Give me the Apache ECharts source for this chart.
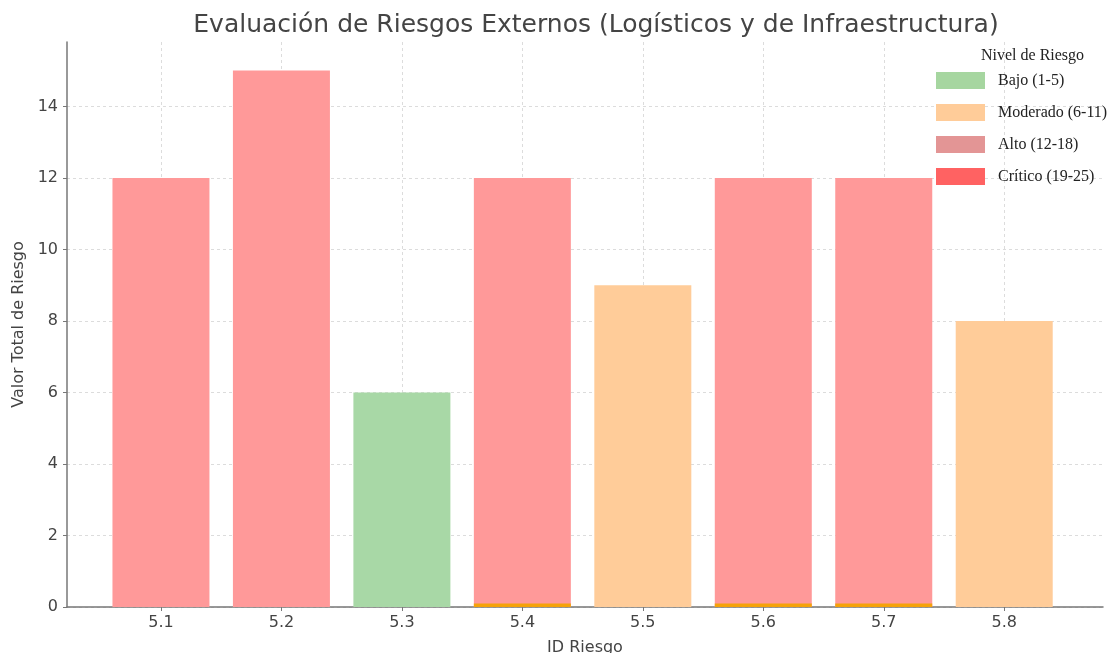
<!DOCTYPE html>
<html>
<head>
<meta charset="utf-8">
<script src="https://cdn.jsdelivr.net/npm/echarts@6/dist/echarts.min.js"></script>
<style>
  html, body { margin: 0; padding: 0; background: #fff; }
  #chart { width: 1115px; height: 653px; }
</style>
</head>
<body>
<div id="chart"></div>
<script>
// Risk IDs and their total scores
const categories = ['5.1', '5.2', '5.3', '5.4', '5.5', '5.6', '5.7', '5.8'];
const totals = [12, 15, 6, 12, 9, 12, 12, 8];
// Colour group of each bar: 'Bajo', 'Moderado', 'Alto'
const groups = ['Alto', 'Alto', 'Bajo', 'Alto', 'Moderado', 'Alto', 'Alto', 'Moderado'];
// Thin overlay segments at the base of some bars
const baseStrip = [0, 0, 0, 0.1, 0, 0.1, 0.1, 0];
const yTicks = [0, 2, 4, 6, 8, 10, 12, 14];

const levels = ['Bajo (1-5)', 'Moderado (6-11)', 'Alto (12-18)', 'Crítico (19-25)'];
const levelKeys = ['Bajo', 'Moderado', 'Alto', 'Crítico'];
const barColors = { 'Bajo': '#a8d8a6', 'Moderado': '#ffcc99', 'Alto': '#ff9999', 'Crítico': '#ff6666' };
const legendColors = { 'Bajo': '#a6d6a0', 'Moderado': '#ffcc99', 'Alto': '#e39595', 'Crítico': '#ff6262' };

const idx = categories.map((_, i) => i);

const series = levelKeys.map((key, k) => ({
  name: levels[k],
  type: 'bar',
  barWidth: 97,
  barGap: '-100%',
  itemStyle: { color: barColors[key] },
  data: idx.filter(i => groups[i] === key).map(i => [i, totals[i]]),
  z: 2
}));

series.push({
  name: 'base',
  type: 'bar',
  barWidth: 97,
  barGap: '-100%',
  itemStyle: { color: '#f5a20a' },
  data: idx.filter(i => baseStrip[i] > 0).map(i => [i, baseStrip[i]]),
  z: 3
});

const chart = echarts.init(document.getElementById('chart'), null, { renderer: 'canvas' });

const gridLine = { show: true, lineStyle: { color: '#dcdcdc', type: [3, 3], width: 1 } };

chart.setOption({
  animation: false,
  backgroundColor: '#ffffff',
  title: {
    text: 'Evaluación de Riesgos Externos (Logísticos y de Infraestructura)',
    left: 591,
    top: 8,
    textAlign: 'center',
    textStyle: { fontFamily: 'DejaVu Sans', fontSize: 25, fontWeight: 'normal', color: '#444' }
  },
  grid: { left: 67, right: 12, top: 42, bottom: 46, containLabel: false, outerBoundsMode: 'none' },
  xAxis: {
    type: 'value',
    min: -0.78,
    max: 7.82,
    name: 'ID Riesgo',
    nameLocation: 'middle',
    nameGap: 33,
    nameTextStyle: { fontFamily: 'DejaVu Sans', fontSize: 16, color: '#444' },
    axisLine: { show: true, onZero: false, lineStyle: { color: '#777', width: 1.5 } },
    axisTick: { show: true, customValues: idx, length: 4, lineStyle: { color: '#777' } },
    axisLabel: {
      customValues: idx,
      formatter: v => categories[Math.round(v)],
      fontFamily: 'DejaVu Sans', fontSize: 16, color: '#444', margin: 8
    },
    splitLine: gridLine
  },
  yAxis: {
    type: 'value',
    min: 0,
    max: 15.8,
    name: 'Valor Total de Riesgo',
    nameLocation: 'middle',
    nameGap: 39,
    nameTextStyle: { fontFamily: 'DejaVu Sans', fontSize: 16, color: '#444' },
    axisLine: { show: true, onZero: false, lineStyle: { color: '#777', width: 1.5 } },
    axisTick: { show: true, customValues: yTicks, length: 4, lineStyle: { color: '#777' } },
    axisLabel: {
      customValues: yTicks,
      fontFamily: 'DejaVu Sans', fontSize: 16, color: '#444', margin: 9
    },
    splitLine: gridLine
  },
  legend: {
    orient: 'vertical',
    left: 931,
    top: 67,
    itemWidth: 49,
    itemHeight: 17,
    itemGap: 15,
    icon: 'rect',
    data: levels.map((name, k) => ({ name, itemStyle: { color: legendColors[levelKeys[k]] } })),
    textStyle: { fontFamily: 'Liberation Serif', fontSize: 16, color: '#222', padding: [0, 0, 0, 8] }
  },
  graphic: [{
    type: 'text',
    left: 981,
    top: 48,
    style: { text: 'Nivel de Riesgo', fontFamily: 'Liberation Serif', fontSize: 16, fill: '#222' }
  }],
  series: series
});
</script>
</body>
</html>
